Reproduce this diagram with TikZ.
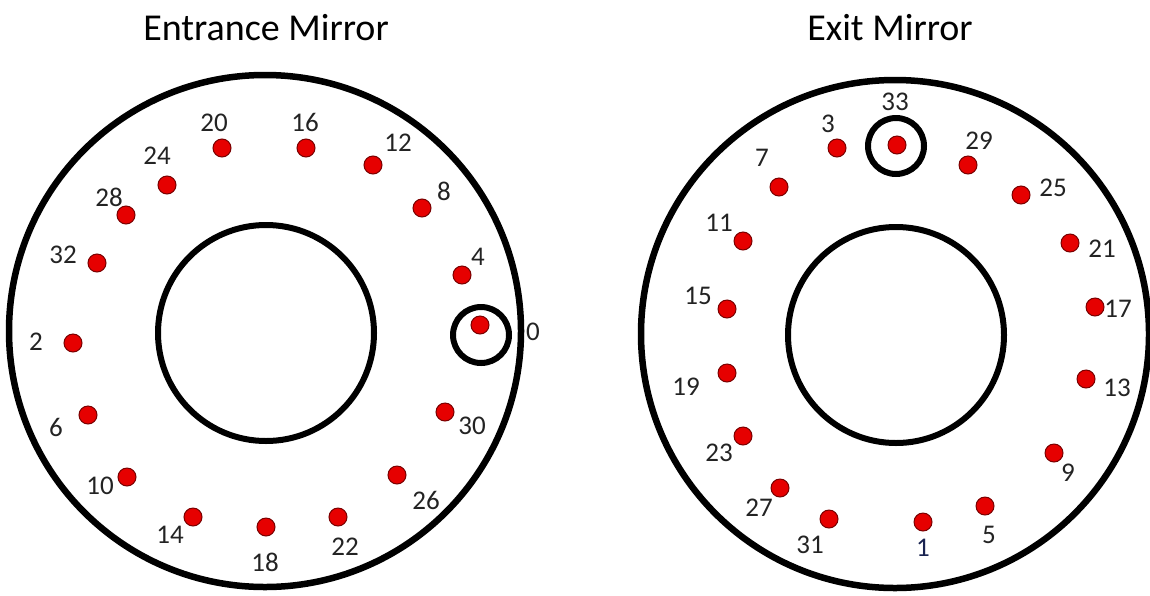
\documentclass[tikz,border=0pt]{standalone}
\usepackage{fontspec}
\setmainfont{Carlito}
\definecolor{spotred}{RGB}{230,0,0}
\definecolor{spotdark}{RGB}{120,0,0}
\definecolor{numgray}{RGB}{35,35,35}
\definecolor{numblue}{RGB}{25,35,80}
\begin{document}
\begin{tikzpicture}[x=1pt,y=-1pt,
  mirror/.style={circle,draw=black,line width=6.5pt,inner sep=0pt},
  hole/.style={circle,draw=black,line width=6pt,inner sep=0pt},
  ring/.style={circle,draw=black,line width=6pt,inner sep=0pt,minimum size=56pt},
  spot/.style={circle,fill=spotred,draw=spotdark,line width=1pt,minimum size=18pt,inner sep=0pt},
  num/.style={font=\fontsize{27}{27}\selectfont,text=numgray,inner sep=0pt},
  title/.style={font=\fontsize{38}{38}\selectfont,inner sep=0pt}]
\useasboundingbox (0,0) rectangle (1150,595);

% titles
\node[title] (t1) at (266,28) {Entrance Mirror};
\node[title] (t2) at (890,28) {Exit Mirror};

% entrance mirror
\node[mirror,minimum size=512pt] (eo) at (265,331) {};
\node[hole,minimum size=216pt] (ei) at (266,333) {};
\node[ring] (er) at (481,335) {};

\foreach \n/\x/\y/\lx/\ly in {
  20/222/148/214/123, 16/306/148/305/122, 12/373/165/398/143,
  8/422/208/444/191, 4/462/275/478/257, 0/480/325/533/332,
  24/167/185/157/156, 28/126/215/109/197, 32/97/263/63/255,
  2/73/343/36/342, 6/88/415/56/427, 10/127/477/100/486,
  14/193/517/170/535, 18/266/527/265/562, 22/338/517/345/547,
  26/397/475/426/500, 30/445/412/472/426}{
  \node[spot] (e\n) at (\x,\y) {};
  \node[num] (el\n) at (\lx,\ly) {\n};
}

% exit mirror
\node[mirror,minimum size=508pt] (xo) at (895,334) {};
\node[hole,minimum size=216pt] (xi) at (896,335) {};
\node[ring] (xr) at (896,146) {};

\foreach \n/\x/\y/\lx/\ly in {
  3/837/148/828/124, 33/897/145/895/102, 29/968/165/979/141,
  25/1021/195/1053/188, 21/1070/243/1102/249, 17/1095/307/1118/309,
  13/1086/379/1117/388, 9/1054/453/1068/473, 5/985/506/989/535,
  31/829/519/810/545, 27/780/488/759/508,
  23/743/436/719/453, 19/727/373/686/387, 15/727/309/698/296,
  11/743/241/719/223, 7/779/187/762/158}{
  \node[spot] (x\n) at (\x,\y) {};
  \node[num] (xl\n) at (\lx,\ly) {\n};
}
\node[spot] (x1) at (923,522) {};
\node[num,text=numblue] (xl1) at (923,548) {1};
\end{tikzpicture}
\end{document}
